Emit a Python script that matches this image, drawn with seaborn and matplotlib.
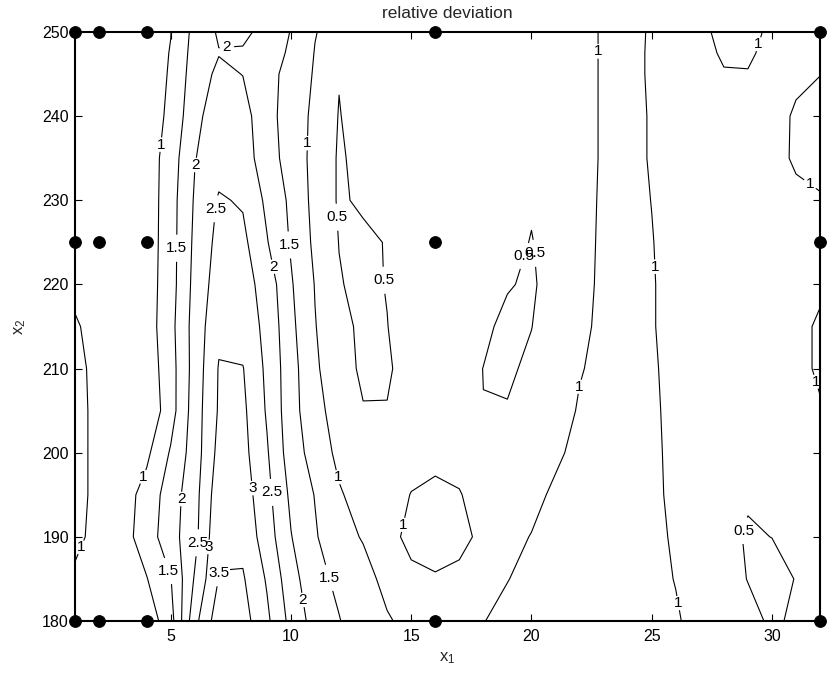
import numpy as np
import pandas as pd
import matplotlib
matplotlib.use("Agg")
import matplotlib.pyplot as plt
import seaborn as sns

# grid of the response surface: x1 = 1..32, x2 rows below
x1 = np.arange(1, 33)
x2 = [180, 185, 190, 195, 200, 205, 210, 215, 220, 225, 230, 235, 240, 245, 247.5, 250]

dev_180 = [0.8, 0.7, 0.66, 0.7, 1.3, 2.85, 3.8, 3.7, 3.1, 2.35, 1.8, 1.52, 1.25, 1.04, 0.88, 0.8,
           0.85, 0.99, 1.1, 1.12, 1.12, 1.13, 1.13, 1.12, 1.1, 1.03, 0.9, 0.75, 0.6, 0.45, 0.55, 0.7]
dev_185 = [0.9, 0.72, 0.68, 0.98, 1.48, 2.55, 3.52, 3.55, 2.95, 2.2, 1.65, 1.4, 1.15, 0.88, 0.9, 0.97,
           0.9, 0.85, 0.99, 1.1, 1.12, 1.13, 1.12, 1.1, 1.08, 0.99, 0.85, 0.65, 0.49, 0.4, 0.51, 0.7]
dev_190 = [1.16, 0.8, 0.8, 1.25, 1.8, 2.35, 3.42, 3.35, 2.75, 2.02, 1.55, 1.15, 0.97, 0.85, 1.12, 1.15,
           1.12, 0.9, 0.92, 1.01, 1.1, 1.12, 1.12, 1.1, 1.06, 0.97, 0.82, 0.6, 0.47, 0.503, 0.6, 0.72]
dev_195 = [1.25, 0.8, 0.78, 1.18, 1.75, 2.32, 3.3, 3.25, 2.65, 1.9, 1.48, 1.05, 0.8, 0.85, 1.01, 1.08,
           1.02, 0.85, 0.85, 0.92, 1.05, 1.1, 1.1, 1.08, 1.05, 0.95, 0.85, 0.7, 0.53, 0.6, 0.7, 0.8]
dev_200 = [1.25, 0.8, 0.75, 0.9, 1.55, 2.25, 3.15, 3.15, 2.55, 1.75, 1.3, 0.88, 0.75, 0.75, 0.88, 0.9,
           0.88, 0.8, 0.8, 0.85, 0.95, 1.08, 1.1, 1.08, 1.04, 0.95, 0.85, 0.75, 0.65, 0.68, 0.75, 0.85]
dev_205 = [1.25, 0.8, 0.7, 0.6, 1.29, 2.25, 3.05, 3.1, 2.45, 1.7, 1.15, 0.8, 0.53, 0.52, 0.7, 0.75,
           0.7, 0.505, 0.53, 0.65, 0.85, 1.03, 1.1, 1.08, 1.03, 0.95, 0.88, 0.82, 0.75, 0.75, 0.82, 0.97]
dev_210 = [1.2, 0.8, 0.7, 0.7, 1.3, 2.2, 3.03, 3.02, 2.4, 1.7, 1.06, 0.75, 0.4, 0.44, 0.7, 0.75,
           0.65, 0.495, 0.42, 0.6, 0.85, 0.98, 1.08, 1.07, 1.02, 0.95, 0.88, 0.85, 0.82, 0.82, 0.9, 1.05]
dev_215 = [1.05, 0.85, 0.72, 0.75, 1.35, 2.2, 2.89, 2.77, 2.38, 1.62, 1.02, 0.65, 0.4, 0.49, 0.75, 0.78,
           0.7, 0.58, 0.4, 0.49, 0.8, 0.95, 1.05, 1.05, 1.01, 0.95, 0.9, 0.88, 0.85, 0.85, 0.92, 1.04]
dev_220 = [0.9, 0.8, 0.72, 0.75, 1.3, 2.15, 2.75, 2.7, 2.3, 1.55, 0.98, 0.53, 0.38, 0.52, 0.75, 0.8,
           0.75, 0.7, 0.53, 0.44, 0.7, 0.92, 1.05, 1.05, 1.01, 0.95, 0.9, 0.88, 0.88, 0.88, 0.9, 0.95]
dev_225 = [0.75, 0.78, 0.72, 0.72, 1.3, 2.1, 2.65, 2.62, 2.03, 1.45, 0.9, 0.49, 0.42, 0.52, 0.78, 0.82,
           0.8, 0.75, 0.65, 0.48, 0.7, 0.92, 1.04, 1.04, 1.005, 0.95, 0.9, 0.88, 0.88, 0.85, 0.85, 0.9]
dev_230 = [0.7, 0.75, 0.7, 0.7, 1.3, 2.05, 2.55, 2.45, 1.9, 1.4, 0.85, 0.45, 0.56, 0.7, 0.8, 0.83,
           0.82, 0.78, 0.7, 0.55, 0.72, 0.9, 1.04, 1.04, 0.998, 0.93, 0.9, 0.88, 0.87, 0.85, 0.9, 0.96]
dev_235 = [0.68, 0.72, 0.7, 0.72, 1.25, 1.98, 2.3, 2.25, 1.72, 1.3, 0.85, 0.45, 0.62, 0.75, 0.8, 0.83,
           0.83, 0.8, 0.78, 0.72, 0.75, 0.9, 1.03, 1.04, 0.99, 0.92, 0.9, 0.88, 0.87, 0.85, 1.06, 1.15]
dev_240 = [0.65, 0.7, 0.7, 0.7, 1.12, 1.85, 2.3, 2.2, 1.65, 1.3, 0.88, 0.48, 0.7, 0.78, 0.8, 0.82,
           0.83, 0.82, 0.8, 0.78, 0.8, 0.9, 1.03, 1.04, 0.99, 0.92, 0.9, 0.9, 0.88, 0.85, 1.05, 1.2]
dev_245 = [0.62, 0.66, 0.7, 0.72, 1.05, 1.75, 2.1, 1.99, 1.65, 1.35, 0.95, 0.52, 0.72, 0.8, 0.82, 0.83,
           0.84, 0.84, 0.83, 0.82, 0.83, 0.9, 1.03, 1.05, 0.98, 0.9, 0.9, 0.98, 0.98, 0.88, 0.92, 0.99]
dev_2475 = [0.61, 0.64, 0.7, 0.77, 1.02, 1.7, 1.98, 1.95, 1.75, 1.42, 0.98, 0.68, 0.76, 0.8, 0.82, 0.83,
            0.84, 0.85, 0.85, 0.84, 0.85, 0.9, 1.03, 1.05, 0.98, 0.9, 0.9, 1.04, 1.06, 0.88, 0.88, 0.95]
dev_250 = [0.6, 0.62, 0.7, 0.82, 0.99, 1.65, 2.06, 2.1, 1.85, 1.48, 1.02, 0.8, 0.8, 0.82, 0.85, 0.86,
           0.86, 0.87, 0.87, 0.87, 0.88, 0.9, 1.03, 1.06, 0.98, 0.9, 0.93, 1.08, 1.15, 0.9, 0.85, 0.9]

levels = [0.5, 1, 1.5, 2, 2.5, 3, 3.5]

# design points of the experiment
design_x1 = [1, 2, 4, 16, 32]
design_x2 = [180, 225, 250]

# where the inline contour labels sit
label_spots = [
    (7.33, 248.5), (4.63, 236.6), (6.01, 234.2), (6.84, 229.0), (5.25, 224.3),
    (10.58, 236.8), (9.96, 224.7), (9.25, 222.1), (11.97, 228.0), (13.91, 220.5),
    (19.8, 223.3), (20.15, 223.7), (22.85, 247.7), (25.06, 222.1), (29.5, 248.5),
    (31.5, 231.6), (31.9, 208.5), (22.1, 207.8), (26.05, 182.1), (28.75, 190.8),
    (14.55, 191.5), (11.96, 197.1), (11.55, 185.1), (10.5, 182.5), (8.42, 195.8),
    (9.25, 195.3), (3.97, 197.0), (5.43, 194.5), (6.09, 189.3), (6.6, 188.8),
    (4.97, 186.0), (7.1, 185.7), (1.23, 188.8),
]

rows = [dev_180, dev_185, dev_190, dev_195, dev_200, dev_205, dev_210, dev_215,
        dev_220, dev_225, dev_230, dev_235, dev_240, dev_245, dev_2475, dev_250]
Z = np.array(rows)

sns.set_style("ticks")
plt.rcParams["font.family"] = ["Liberation Sans", "DejaVu Sans"]
plt.rcParams["mathtext.fontset"] = "custom"
plt.rcParams["mathtext.rm"] = "Liberation Sans"
plt.rcParams["mathtext.it"] = "Liberation Sans"

fig = plt.figure(figsize=(8.29, 6.75), dpi=100)
ax = fig.add_axes([0.0899, 0.08, 0.8993, 0.8726])

cs = ax.contour(x1, x2, Z, levels=levels, colors="black", linewidths=0.8)
texts = ax.clabel(cs, inline=True, fmt="%g", fontsize=11, manual=label_spots,
                  inline_spacing=3)
for t in texts:
    t.set_rotation(0)

pts = pd.DataFrame([(a, b) for b in design_x2 for a in design_x1], columns=["x1", "x2"])
sns.scatterplot(data=pts, x="x1", y="x2", color="black", s=72, edgecolor="black",
                ax=ax, clip_on=False, zorder=6, legend=False)

ax.set_xlim(1, 32)
ax.set_ylim(180, 250)
ax.set_xticks([5, 10, 15, 20, 25, 30])
ax.set_yticks(np.arange(180, 251, 10))
ax.tick_params(direction="in", length=5, width=0.8, top=True, right=True,
               labelsize=11.5, colors="black", pad=4)
ax.tick_params(axis="x", pad=6)
for s in ax.spines.values():
    s.set_linewidth(1.5)
    s.set_color("black")

ax.set_title("relative deviation", fontsize=12.5, pad=10)
ax.set_xlabel(r"$\mathregular{x_1}$", fontsize=12, labelpad=4)
ax.set_ylabel(r"$\mathregular{x_2}$", fontsize=12, labelpad=10)

fig.savefig("out.png", dpi=100)
